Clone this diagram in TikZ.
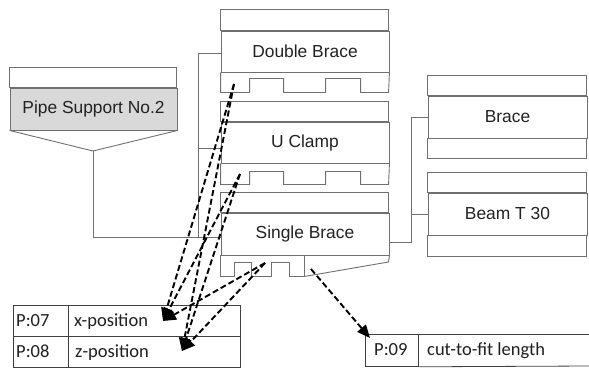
\documentclass[tikz,border=0pt]{standalone}
\usepackage{fontspec}
\setmainfont{Liberation Sans}
\newfontfamily\calfont{Carlito}
\usetikzlibrary{arrows.meta}
\definecolor{boxgray}{HTML}{707070}
\definecolor{txtgray}{HTML}{222222}
\definecolor{psfill}{HTML}{D9D9D9}
\definecolor{tabline}{HTML}{404040}
\begin{document}
\begin{tikzpicture}[x=1pt,y=-1pt,
 box/.style={draw=boxgray,line width=0.9pt},
 cell/.style={box,inner sep=0pt,font=\fontsize{17.4}{20}\selectfont,text=txtgray,minimum width=168pt,minimum height=41pt},
 tree/.style={draw=boxgray,line width=0.9pt},
 tcell/.style={draw=tabline,line width=0.8pt,inner sep=0pt,anchor=north west,minimum height=31pt},
 ttext/.style={anchor=base west,inner sep=0pt,font=\calfont\fontsize{18.5}{20}\selectfont,text=black!88},
 darrow/.style={draw=black,line width=1.9pt,dash pattern=on 6pt off 3pt,-{Triangle[length=13pt,width=11pt]}}
]
\useasboundingbox (0,0) rectangle (589,367);

% Double Brace
\node[cell] (db) at (305,51.5) {Double Brace};
\draw[box] (db.north west) rectangle ++(168,-21);
\draw[box] (db.south west) -- ++(0,20) -- ++(29,0) -- ++(0,-14) -- ++(34,0) -- ++(0,14) -- ++(42,0) -- ++(0,-14) -- ++(35,0) -- ++(0,14) -- ++(28,0) -- (db.south east);

% U Clamp
\node[cell] (uc) at (305,142.5) {U Clamp};
\draw[box] (uc.north west) rectangle ++(168,-20);
\draw[box] (uc.south west) -- ++(0,21) -- ++(29,0) -- ++(0,-13) -- ++(34,0) -- ++(0,13) -- ++(42,0) -- ++(0,-13) -- ++(35,0) -- ++(0,13) -- ++(28,0) -- (uc.south east);

% Single Brace
\node[cell,minimum height=42pt] (sb) at (305,234) {Single Brace};
\draw[box] (sb.north west) rectangle ++(168,-20);
\draw[box] (sb.south west) -- ++(0,21) -- ++(14,0) -- ++(0,-14) -- ++(17,0) -- ++(0,14) -- ++(20,0) -- ++(0,-14) -- ++(18,0) -- ++(0,14) -- ++(15,0) coordinate (sbcut) -- ++(0,-21);
\draw[box] (sbcut) -- (388.5,262) -- (sb.south east);

% Brace
\node[cell,minimum width=159pt,minimum height=42pt] (br) at (507.5,117) {Brace};
\draw[box] (br.north west) rectangle ++(159,-20);
\draw[box] (br.south west) rectangle ++(159,20);

% Beam T 30
\node[cell,minimum width=159pt,minimum height=42pt] (bt) at (507.5,214) {Beam T 30};
\draw[box] (bt.north west) rectangle ++(159,-20);
\draw[box] (bt.south west) rectangle ++(159,21);

% Pipe Support No.2
\node[cell,fill=psfill,minimum width=167pt,minimum height=42pt] (ps) at (93.5,109) {Pipe Support No.2};
\draw[box] (ps.north west) rectangle ++(167,-20);
\draw[box] (ps.south west) -- (93,151) coordinate (psb) -- (ps.south east);

% tree connectors
\draw[tree] ([yshift=-1.5pt]db.west) -- ++(-22,0) |- ([yshift=-3pt]sb.west);
\draw[tree] ([yshift=-5.5pt]uc.west) -- ++(-22,0);
\draw[tree] (psb) |- ([yshift=-3pt]sb.west);
\draw[tree] ([yshift=-8pt]sb.east) -- ++(22,0) coordinate (rj) |- (br.west);
\draw[tree] (rj) |- (bt.west);

% parameter tables
\node[tcell,minimum width=55pt] (c7a) at (13,304.5) {};
\node[tcell,minimum width=172pt] (c7b) at (68,304.5) {};
\node[tcell,minimum width=55pt] (c8a) at (13,335.5) {};
\node[tcell,minimum width=172pt] (c8b) at (68,335.5) {};
\node[ttext] (t7a) at (16,326) {P:07};
\node[ttext] (t7b) at (74,326) {x-position};
\node[ttext] (t8a) at (16,357.5) {P:08};
\node[ttext] (t8b) at (75,357.5) {z-position};

\node[tcell,minimum width=53pt,minimum height=32pt] (c9a) at (365,334) {};
\draw[draw=tabline,line width=0.8pt] (c9a.north east) -- (589,334);
\draw[draw=tabline,line width=0.8pt] (c9a.south east) -- (589,366);
\node[ttext] (t9a) at (374,355) {P:09};
\node[ttext] (t9b) at (427,355) {cut-to-fit length};

% dashed arrows
\coordinate (dbt) at (234,84);
\coordinate (uct) at (240,174);
\coordinate (sbt) at (265,263);
\coordinate (sbc) at (311,269);
\coordinate (xt) at (163,321);
\coordinate (zt) at (182,351);
\coordinate (p9) at (370,338);
\draw[darrow] (dbt) -- (xt);
\draw[darrow] (dbt) -- (zt);
\draw[darrow] (uct) -- (xt);
\draw[darrow] (uct) -- (zt);
\draw[darrow] (sbt) -- (xt);
\draw[darrow] (sbt) -- (zt);
\draw[darrow] (sbc) -- (p9);
\end{tikzpicture}
\end{document}
